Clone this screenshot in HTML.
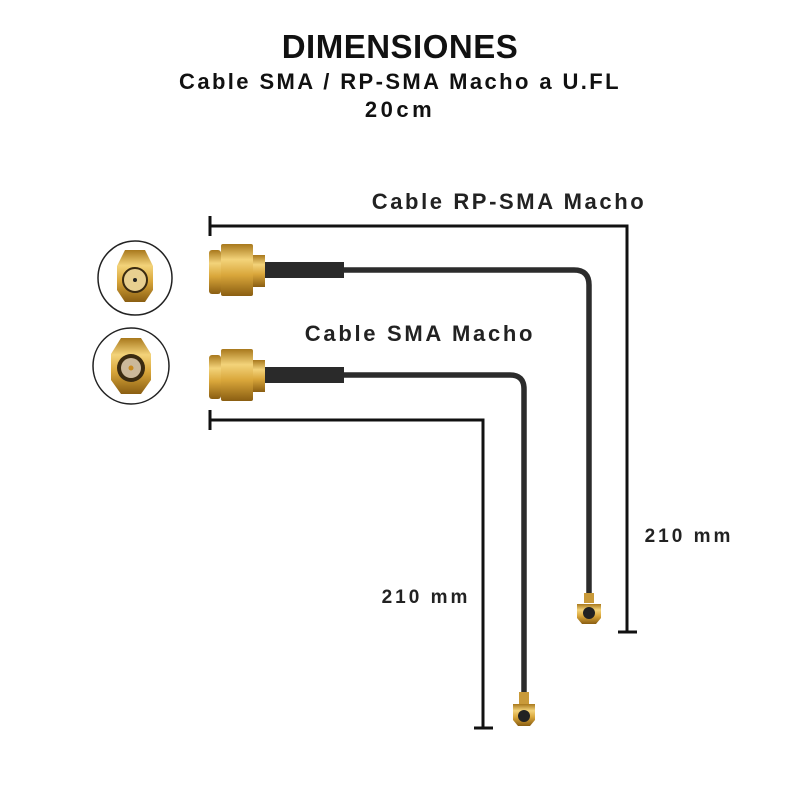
<!DOCTYPE html>
<html><head><style>
body{margin:0;background:#fff;}
.t{position:absolute;left:0;width:800px;text-align:center;font-family:"Liberation Sans",sans-serif;font-weight:bold;color:#111;}
</style></head><body>
<div style="position:relative;width:800px;height:800px;overflow:hidden">
<div class="t" style="top:28px;font-size:33px;letter-spacing:0.5px">DIMENSIONES</div>
<div class="t" style="top:69px;font-size:22px;letter-spacing:2.4px">Cable SMA / RP-SMA Macho a U.FL</div>
<div class="t" style="top:97px;font-size:22px;letter-spacing:3.5px">20cm</div>
<svg width="800" height="800" style="position:absolute;left:0;top:0">
<defs>
<linearGradient id="g" x1="0" y1="0" x2="0" y2="1">
<stop offset="0" stop-color="#a8781c"/><stop offset="0.3" stop-color="#f3d37a"/><stop offset="0.6" stop-color="#d9a63a"/><stop offset="1" stop-color="#8a5e12"/></linearGradient>
</defs>
<g stroke="#111" stroke-width="3" fill="none">
<path d="M210 226H627V632"/><path d="M210 216V236"/><path d="M618 632H637"/>
<path d="M210 420H483V728"/><path d="M210 410V430"/><path d="M474 728H493"/>
</g>
<g font-family="Liberation Sans" font-weight="bold" fill="#222" text-anchor="middle">
<text x="509" y="209" font-size="22" letter-spacing="2.6">Cable RP-SMA Macho</text>
<text x="420" y="341" font-size="22" letter-spacing="2.7">Cable SMA Macho</text>
<text x="689" y="542" font-size="19" letter-spacing="3">210 mm</text>
<text x="426" y="603" font-size="19" letter-spacing="3">210 mm</text>
</g>
<g fill="none" stroke="#2c2c2c" stroke-width="5.5">
<path d="M340 270H574Q589 270 589 285V598"/>
<path d="M340 375H510Q524 375 524 389V696"/>
</g>
<rect x="262" y="262" width="82" height="16" fill="#2a2a2a"/>
<rect x="262" y="367" width="82" height="16" fill="#2a2a2a"/>
<g>
<rect x="209" y="250" width="12" height="44" rx="3" fill="url(#g)"/>
<rect x="221" y="244" width="32" height="52" rx="2" fill="url(#g)"/>
<rect x="253" y="255" width="12" height="32" fill="url(#g)"/>
<rect x="209" y="355" width="12" height="44" rx="3" fill="url(#g)"/>
<rect x="221" y="349" width="32" height="52" rx="2" fill="url(#g)"/>
<rect x="253" y="360" width="12" height="32" fill="url(#g)"/>
</g>
<g>
<rect x="584" y="593" width="10" height="10" fill="#c99a3a"/>
<path d="M577 604h24v14l-5 6h-14l-5-6z" fill="url(#g)"/>
<circle cx="589" cy="613" r="6" fill="#222"/>
<rect x="519" y="692" width="10" height="12" fill="#c99a3a"/>
<path d="M513 704h22v16l-5 6h-12l-5-6z" fill="url(#g)"/>
<circle cx="524" cy="716" r="6" fill="#222"/>
</g>
<circle cx="135" cy="278" r="37" fill="#fff" stroke="#222" stroke-width="1.5"/>
<path d="M125 250h20l8 16v24l-8 12h-20l-8-12v-24z" fill="url(#g)"/>
<circle cx="135" cy="280" r="12" fill="#e8cf90" stroke="#3a2a10" stroke-width="2"/>
<circle cx="135" cy="280" r="2" fill="#222"/>
<circle cx="131" cy="366" r="38" fill="#fff" stroke="#222" stroke-width="1.5"/>
<path d="M121 338h20l10 16v26l-10 14h-20l-10-14v-26z" fill="url(#g)"/>
<circle cx="131" cy="368" r="14" fill="#3a2a10"/>
<circle cx="131" cy="368" r="10" fill="#cbb89a"/>
<circle cx="131" cy="368" r="2.5" fill="#c88a20"/>
</svg>
</div>
</body></html>
